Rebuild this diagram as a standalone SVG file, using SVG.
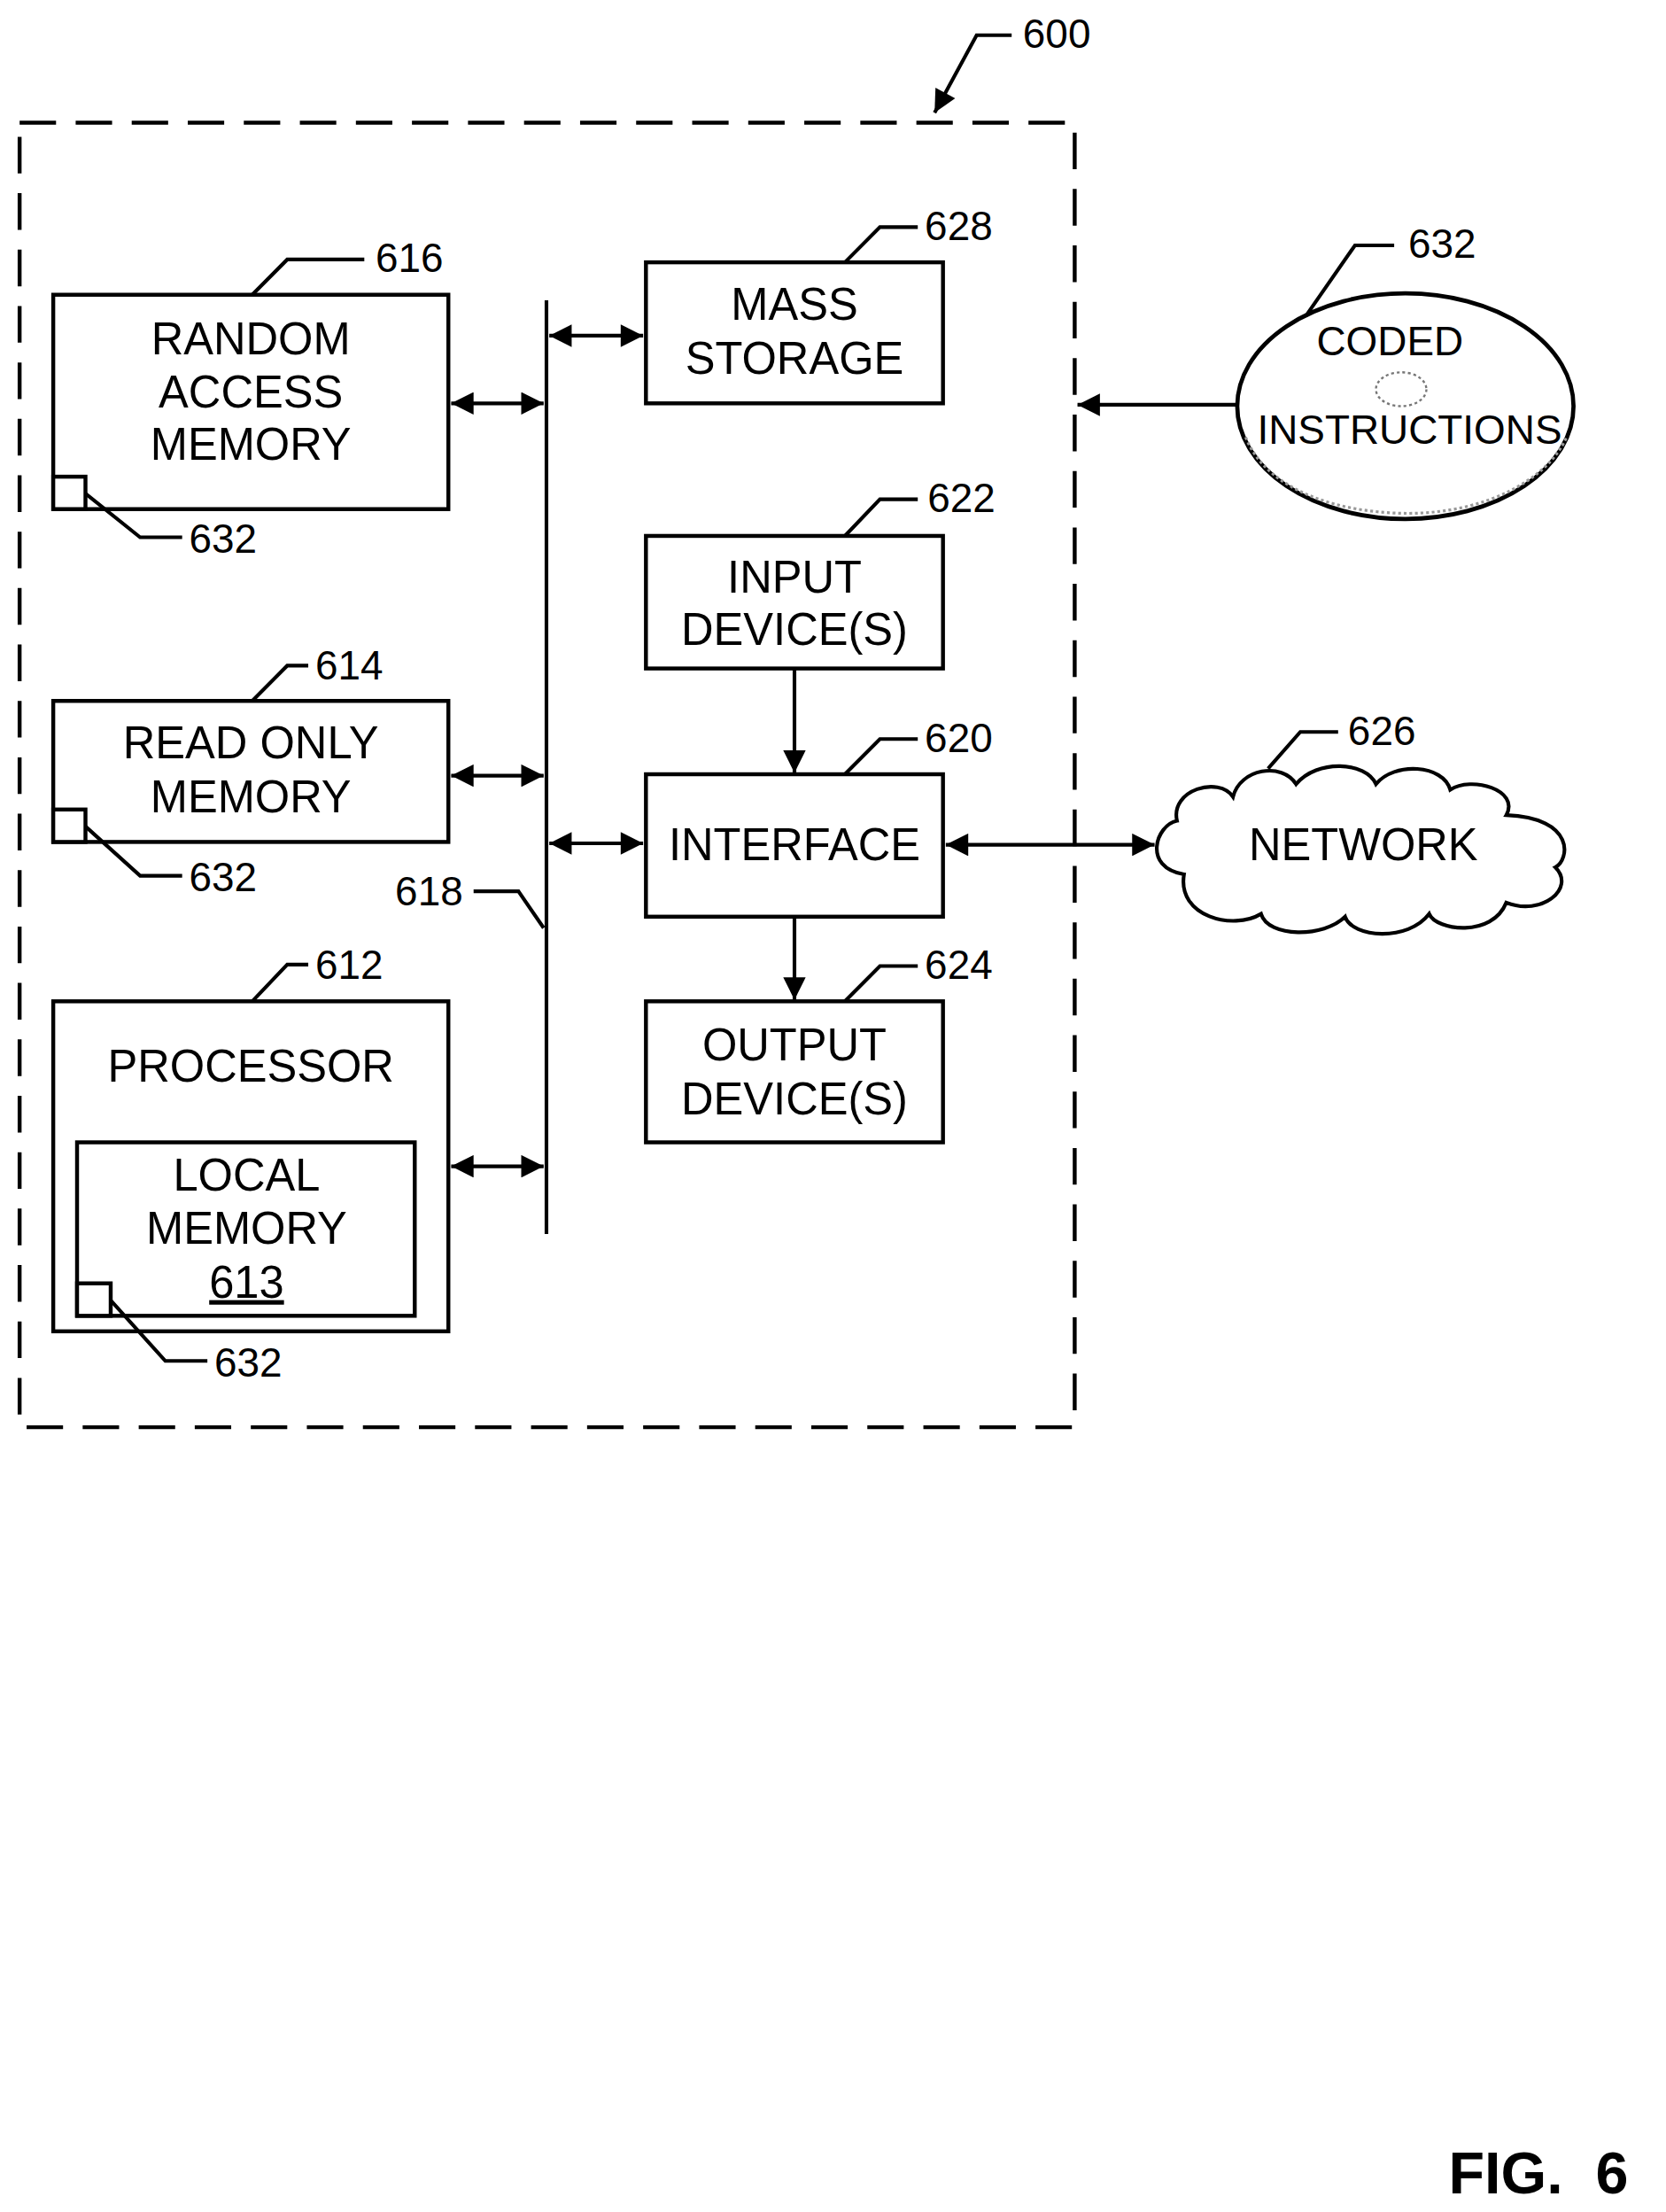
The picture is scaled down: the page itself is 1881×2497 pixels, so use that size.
<svg xmlns="http://www.w3.org/2000/svg" width="1881" height="2497" viewBox="0 0 1881 2497">
<defs>
<marker id="ab" viewBox="0 0 10 10" refX="10" refY="5" markerWidth="22" markerHeight="16" orient="auto-start-reverse" markerUnits="userSpaceOnUse"><path d="M0,0 L10,5 L0,10 z" fill="#000"/></marker>
</defs>
<style>
.b{fill:#fff;stroke:#000;stroke-width:2.8}
.l{fill:none;stroke:#000;stroke-width:2.6}
.t{font-family:"Liberation Sans",Arial,sans-serif;font-size:32px;text-anchor:middle;fill:#000}
.n{font-family:"Liberation Sans",Arial,sans-serif;font-size:29px;fill:#000}
</style>
<rect width="1881" height="2497" fill="#fff"/>
<g transform="scale(1.582 1.592)">
<rect id="frame" x="14" y="87" width="753" height="925" fill="none" stroke="#000" stroke-width="2.8" stroke-dasharray="26,14"/>
<g id="n600"><text class="n" x="730" y="34">600</text><path class="l" d="M722,25 H697 L667,80" marker-end="url(#ab)"/></g>
<g id="ram"><rect class="b" x="38" y="209" width="282" height="152"/><text class="t" x="179" y="251">RANDOM</text><text class="t" x="179" y="289">ACCESS</text><text class="t" x="179" y="326">MEMORY</text><rect class="b" x="38" y="338" width="23" height="23"/><path class="l" d="M61,350 L100,381 H130"/><text class="n" x="135" y="392">632</text><path class="l" d="M180,209 L205,184 H260"/><text class="n" x="268" y="193">616</text></g>
<g id="rom"><rect class="b" x="38" y="497" width="282" height="100"/><text class="t" x="179" y="538">READ ONLY</text><text class="t" x="179" y="576">MEMORY</text><rect class="b" x="38" y="574" width="23" height="23"/><path class="l" d="M61,586 L100,621 H130"/><text class="n" x="135" y="632">632</text><path class="l" d="M180,497 L205,472 H220"/><text class="n" x="225" y="482">614</text></g>
<g id="proc"><rect class="b" x="38" y="710" width="282" height="234"/><text class="t" x="179" y="767">PROCESSOR</text><rect class="b" x="55" y="810" width="241" height="123"/><text class="t" x="176" y="844">LOCAL</text><text class="t" x="176" y="882">MEMORY</text><text class="t" x="176" y="920" text-decoration="underline">613</text><rect class="b" x="55" y="910" width="24" height="23"/><path class="l" d="M79,922 L118,965 H148"/><text class="n" x="153" y="976">632</text><path class="l" d="M180,710 L205,684 H220"/><text class="n" x="225" y="694">612</text></g>
<g id="ms"><rect class="b" x="461" y="186" width="212" height="100"/><text class="t" x="567" y="227">MASS</text><text class="t" x="567" y="265">STORAGE</text><path class="l" d="M603,186 L628,161 H655"/><text class="n" x="660" y="170">628</text></g>
<g id="in"><rect class="b" x="461" y="380" width="212" height="94"/><text class="t" x="567" y="420">INPUT</text><text class="t" x="567" y="457">DEVICE(S)</text><path class="l" d="M603,380 L628,354 H655"/><text class="n" x="662" y="363">622</text></g>
<g id="if"><rect class="b" x="461" y="549" width="212" height="101"/><text class="t" x="567" y="610">INTERFACE</text><path class="l" d="M603,549 L628,524 H655"/><text class="n" x="660" y="533">620</text></g>
<g id="out"><rect class="b" x="461" y="710" width="212" height="100"/><text class="t" x="567" y="752">OUTPUT</text><text class="t" x="567" y="790">DEVICE(S)</text><path class="l" d="M603,710 L628,685 H655"/><text class="n" x="660" y="694">624</text></g>
<g id="net"><path fill="#fff" stroke="#000" stroke-width="2.6" d="M845,620 C815,615 825,585 840,582 C835,560 870,550 880,565 C885,545 915,540 925,556 C940,538 975,540 982,556 C995,540 1030,542 1035,560 C1050,550 1085,560 1075,578 C1125,580 1120,610 1110,615 C1125,630 1100,650 1075,640 C1065,665 1025,660 1020,648 C1005,668 965,665 960,650 C945,665 905,665 900,648 C880,660 840,650 845,620 Z"/><text class="t" x="973" y="610">NETWORK</text><path class="l" d="M905,545 L928,519 H955"/><text class="n" x="962" y="528">626</text></g>
<g id="disk"><ellipse cx="1003" cy="288" rx="120" ry="80" fill="#fff" stroke="#000" stroke-width="3"/><path d="M889,310 C905,350 960,364 1005,364 C1060,364 1105,340 1118,310" fill="none" stroke="#999" stroke-width="2" stroke-dasharray="2,2"/><ellipse cx="1000" cy="276" rx="18" ry="12" fill="none" stroke="#777" stroke-width="1.5" stroke-dasharray="2,2"/><text class="n" x="992" y="252" text-anchor="middle" font-size="24">CODED</text><text class="n" x="1006" y="315" text-anchor="middle" font-size="24">INSTRUCTIONS</text><path class="l" d="M932,224 L967,174 H995"/><text class="n" x="1005" y="183">632</text></g>
<g id="connectors">
<line class="l" x1="390" y1="213" x2="390" y2="875"/>
<path class="l" d="M338,632 H370 L388,658"/><text class="n" x="282" y="642">618</text>
<line class="l" x1="322" y1="286" x2="388" y2="286" marker-start="url(#ab)" marker-end="url(#ab)"/>
<line class="l" x1="322" y1="550" x2="388" y2="550" marker-start="url(#ab)" marker-end="url(#ab)"/>
<line class="l" x1="322" y1="827" x2="388" y2="827" marker-start="url(#ab)" marker-end="url(#ab)"/>
<line class="l" x1="392" y1="238" x2="459" y2="238" marker-start="url(#ab)" marker-end="url(#ab)"/>
<line class="l" x1="392" y1="598" x2="459" y2="598" marker-start="url(#ab)" marker-end="url(#ab)"/>
<line class="l" x1="567" y1="474" x2="567" y2="548" marker-end="url(#ab)"/>
<line class="l" x1="567" y1="650" x2="567" y2="709" marker-end="url(#ab)"/>
<line class="l" x1="675" y1="599" x2="824" y2="599" marker-start="url(#ab)" marker-end="url(#ab)"/>
<line class="l" x1="883" y1="287" x2="769" y2="287" marker-end="url(#ab)"/>
</g>
<text x="1098" y="1555" font-family="'Liberation Sans',Arial,sans-serif" font-size="42" font-weight="bold" text-anchor="middle" xml:space="preserve">FIG.  6</text>
</g>
</svg>
